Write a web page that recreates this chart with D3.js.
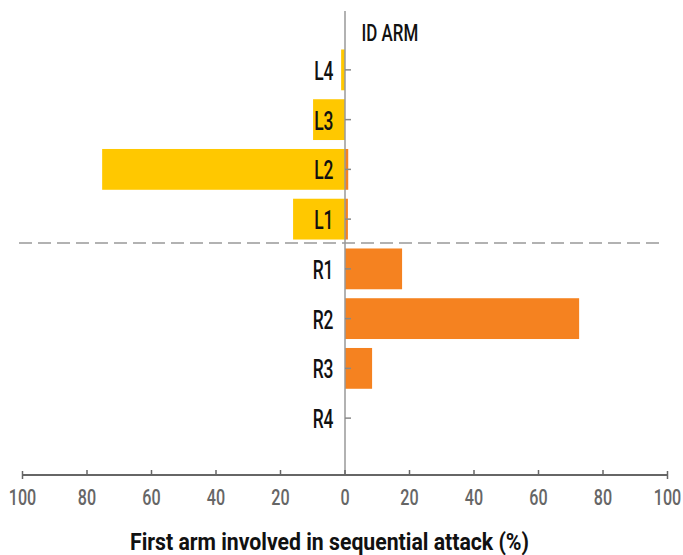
<!DOCTYPE html>
<html><head><meta charset="utf-8">
<script src="https://cdn.jsdelivr.net/npm/d3@7"></script>
<style>
body{margin:0;background:#fff;}
text{font-family:"Roboto","Liberation Sans",sans-serif;}
</style></head>
<body><svg id="chart" width="683" height="555"></svg>
<script>
const categories = ["L4","L3","L2","L1","R1","R2","R3","R4"];
const leftValues = [1.2, 9.9, 75.3, 16.1, 0, 0, 0, 0];   // yellow, drawn to the left
const rightValues = [0, 0, 1, 0.9, 17.7, 72.6, 8.4, 0];   // orange, drawn to the right
const tickValues = [-100,-80,-60,-40,-20,0,20,40,60,80,100];
const tickLabels = ["100","80","60","40","20","0","20","40","60","80","100"];

const svg = d3.select("#chart");
const x = d3.scaleLinear().domain([-100,100]).range([22.5,667.5]);
const y = d3.scaleBand().domain(categories).range([45,443]).paddingInner(0.18).paddingOuter(0.09);

// bars
svg.append("g").selectAll("rect").data(categories).join("rect")
  .attr("x", (d,i)=>x(-leftValues[i])).attr("y", d=>y(d))
  .attr("width", (d,i)=>x(0)-x(-leftValues[i])).attr("height", y.bandwidth())
  .attr("fill","#FFC800");
svg.append("g").selectAll("rect").data(categories).join("rect")
  .attr("x", x(0)).attr("y", d=>y(d))
  .attr("width", (d,i)=>x(rightValues[i])-x(0)).attr("height", y.bandwidth())
  .attr("fill","#F58220");

// zero line
svg.append("line").attr("x1",x(0)).attr("x2",x(0)).attr("y1",11).attr("y2",475)
  .attr("stroke","#999").attr("stroke-width",1.5);

// category ticks
svg.append("g").selectAll("line").data(categories).join("line")
  .attr("x1",x(0)).attr("x2",x(0)+6)
  .attr("y1",d=>y(d)+y.bandwidth()/2).attr("y2",d=>y(d)+y.bandwidth()/2)
  .attr("stroke","#888").attr("stroke-width",1.5);
svg.append("g").selectAll("text").data(categories).join("text")
  .attr("transform",d=>`translate(${x(0)-11.5},${y(d)+y.bandwidth()/2+10}) scale(0.67,1)`)
  .attr("text-anchor","end").attr("font-size",26).attr("font-weight",500).attr("fill","#111").text(d=>d);

svg.append("text").attr("transform","translate(361.5,41) scale(0.72,1)")
  .attr("font-size",23.5).attr("font-weight",500).attr("fill","#111").text("ID ARM");

// dashed separator
svg.append("line").attr("x1",19).attr("x2",664).attr("y1",243).attr("y2",243)
  .attr("stroke","#999").attr("stroke-width",1.5).attr("stroke-dasharray","13,6");

// x axis
const axisG = svg.append("g").attr("transform","translate(0,475)");
axisG.append("line").attr("x1",x(-100)).attr("x2",x(100)).attr("stroke","#666").attr("stroke-width",2);
axisG.selectAll("line.tk").data(tickValues).join("line").attr("class","tk")
  .attr("x1",d=>x(d)).attr("x2",d=>x(d))
  .attr("y1",(d,i)=> (i===0||i===tickValues.length-1)? -4 : -5)
  .attr("y2",(d,i)=> (i===0||i===tickValues.length-1)? 4 : 0)
  .attr("stroke","#666").attr("stroke-width",1.5);
axisG.selectAll("text").data(tickValues).join("text")
  .attr("transform",d=>`translate(${x(d)},29.5) scale(0.75,1)`).attr("text-anchor","middle")
  .attr("font-size",21.5).attr("font-weight",500).attr("fill","#666").text((d,i)=>tickLabels[i]);

svg.append("text").attr("x",130).attr("y",549.5)
  .attr("font-size",24).attr("font-weight","bold").attr("fill","#111")
  .attr("textLength",399).attr("lengthAdjust","spacingAndGlyphs")
  .text("First arm involved in sequential attack (%)");
</script></body></html>
